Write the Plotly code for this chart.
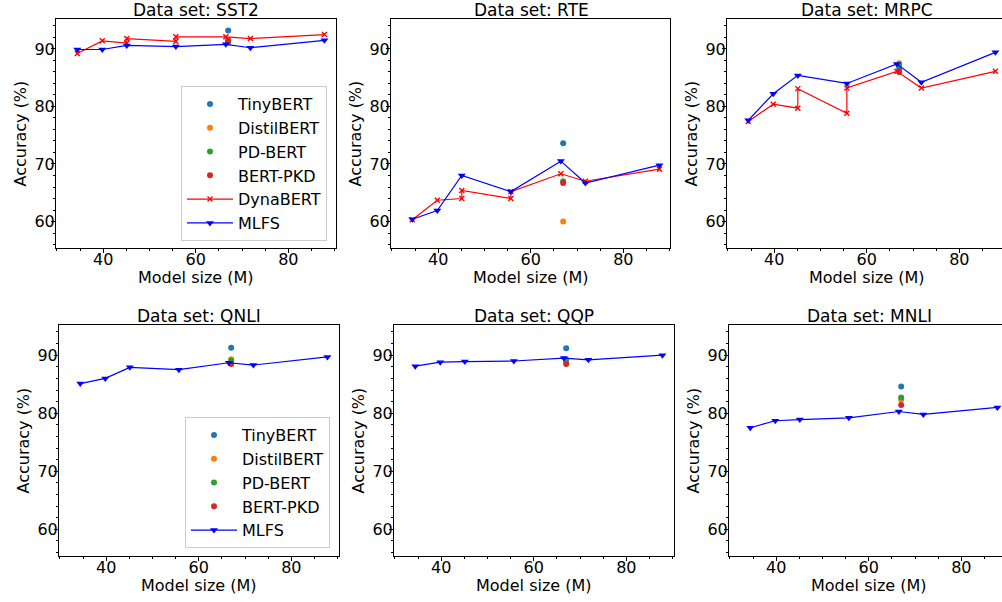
import plotly.graph_objects as go

# ---------------- data ----------------
datasets = ["SST2", "RTE", "MRPC", "QNLI", "QQP", "MNLI"]

mlfs_size = [34.4, 39.8, 45.1, 55.7, 66.5, 71.8, 87.8]
mlfs_acc = {
    "SST2": [89.9, 89.9, 90.6, 90.4, 90.8, 90.2, 91.5],
    "RTE":  [60.4, 61.9, 68.0, 65.2, 70.5, 66.7, 69.8],
    "MRPC": [77.6, 82.2, 85.4, 84.0, 87.4, 84.2, 89.4],
    "QNLI": [85.1, 86.0, 87.9, 87.5, 88.7, 88.3, 89.7],
    "QQP":  [88.1, 88.8, 88.9, 89.0, 89.5, 89.2, 90.0],
    "MNLI": [77.5, 78.7, 78.9, 79.2, 80.3, 79.8, 81.0],
}

dyna_size = [34.4, 39.8, 45.1, 45.1, 55.7, 55.7, 66.5, 71.8, 87.8]
dyna_acc = {
    "SST2": [89.2, 91.4, 91.0, 91.8, 91.3, 92.1, 92.1, 91.8, 92.5],
    "RTE":  [60.3, 63.7, 64.0, 65.4, 64.0, 65.2, 68.3, 67.0, 69.1],
    "MRPC": [77.4, 80.4, 79.7, 83.1, 78.8, 83.2, 86.1, 83.2, 86.1],
}

baseline_names = ["TinyBERT", "DistilBERT", "PD-BERT", "BERT-PKD"]
baseline_colors = ["#1f77b4", "#ff7f0e", "#2ca02c", "#d62728"]
baseline_size = 67.0
baseline_acc = {
    "SST2": [93.2, 91.3, 91.1, 91.5],
    "RTE":  [73.6, 60.0, 67.0, 66.7],
    "MRPC": [86.5, 87.5, 87.3, 86.0],
    "QNLI": [91.3, 89.3, 89.1, 88.5],
    "QQP":  [91.2, 88.9, 89.2, 88.5],
    "MNLI": [84.6, 82.3, 82.7, 81.4],
}

x_ticks = [40, 60, 80]
y_ticks = [60, 70, 80, 90]

# ---------------- layout (pixels) ----------------
W, H = 1002, 602
panels = {
    "SST2": (56, 336, 19, 248),
    "RTE":  (391, 670, 19, 248),
    "MRPC": (727, 1002, 19, 248),
    "QNLI": (59, 339, 325, 556),
    "QQP":  (394, 674, 325, 556),
    "MNLI": (729, 1002, 325, 556),
}
PX_PER_UNIT = 280 / 60.5
X0 = 29.8
YR = [55.4, 95.2]

FONT = "DejaVu Sans"
fig = go.Figure()


def ann(text, x, y, size=16, angle=0):
    fig.add_annotation(text=text, x=x / W, y=1 - y / H, xref="paper", yref="paper",
                       xanchor="center", yanchor="middle", showarrow=False, textangle=angle,
                       font=dict(family=FONT, size=size, color="black"))


for i, ds in enumerate(datasets):
    n = "" if i == 0 else str(i + 1)
    xa, ya = "x" + n, "y" + n
    legend = "legend" if ds == "SST2" else ("legend2" if ds == "QNLI" else None)
    show = legend is not None

    for bn, bc, bv in zip(baseline_names, baseline_colors, baseline_acc[ds]):
        fig.add_trace(go.Scatter(
            x=[baseline_size], y=[bv], mode="markers", name=bn,
            marker=dict(color=bc, size=6), xaxis=xa, yaxis=ya,
            showlegend=show, legend=legend if show else "legend"))
    if ds in dyna_acc:
        fig.add_trace(go.Scatter(
            x=dyna_size, y=dyna_acc[ds], mode="lines+markers", name="DynaBERT",
            line=dict(color="#ff0000", width=1.2),
            marker=dict(symbol="x-thin", size=5, line=dict(color="#ff0000", width=1.4)),
            xaxis=xa, yaxis=ya, showlegend=(ds == "SST2"), legend="legend"))
    fig.add_trace(go.Scatter(
        x=mlfs_size, y=mlfs_acc[ds], mode="lines+markers", name="MLFS",
        line=dict(color="#0000ff", width=1.2),
        marker=dict(symbol="triangle-down", size=7, color="#0000ff"),
        xaxis=xa, yaxis=ya, showlegend=show, legend=legend if show else "legend"))

    l, r, t, b = panels[ds]
    clipped = r >= W
    xr = [X0, X0 + (r - l) / PX_PER_UNIT]
    axcommon = dict(showline=True, linecolor="black", linewidth=1, ticks="outside",
                    ticklen=4, tickwidth=1, tickcolor="black", showgrid=False,
                    zeroline=False, tickfont=dict(family=FONT, size=16, color="black"))
    fig.layout["xaxis" + n] = dict(
        domain=[l / W, r / W], range=xr, anchor=ya, tickvals=x_ticks, mirror=True,
        ticklabelstandoff=-7,
        minor=dict(dtick=5, tick0=0, ticks="outside", ticklen=2, tickwidth=1, tickcolor="black"),
        **axcommon)
    fig.layout["yaxis" + n] = dict(
        domain=[1 - b / H, 1 - t / H], range=YR, anchor=xa, tickvals=y_ticks,
        mirror=(not clipped), ticklabelstandoff=-7,
        minor=dict(dtick=2, tick0=0, ticks="outside", ticklen=2, tickwidth=1, tickcolor="black"),
        **axcommon)
    cx = (l + l + 280) / 2
    ann("Data set: " + ds, cx, t - 9, size=17)
    ann("Model size (M)", cx, b + 29, size=16)
    ann("Accuracy (%)", l - 36, (t + b) / 2, size=16, angle=-90)

legend_style = dict(font=dict(family=FONT, size=16, color="black"), bgcolor="rgba(255,255,255,0.8)",
                    bordercolor="#cccccc", borderwidth=1, itemwidth=46, tracegroupgap=0,
                    xanchor="right", yanchor="bottom")
fig.update_layout(
    width=W, height=H, margin=dict(l=0, r=0, t=0, b=0),
    paper_bgcolor="white", plot_bgcolor="white",
    legend=dict(x=327 / W, y=1 - 241 / H, **legend_style),
    legend2=dict(x=330 / W, y=1 - 548 / H, **legend_style),
)

fig.write_html("out.html", config={"displayModeBar": False},
               post_script="document.body.style.margin='0';")
